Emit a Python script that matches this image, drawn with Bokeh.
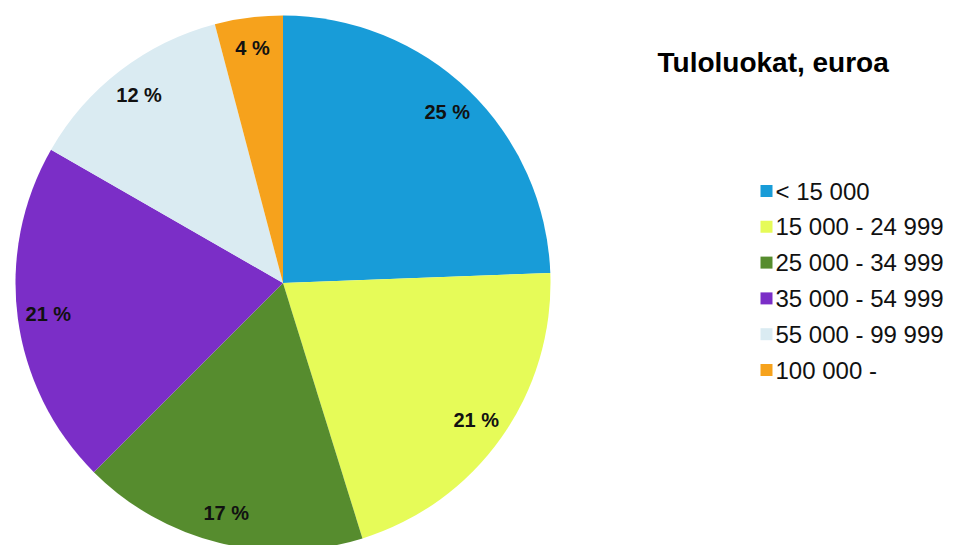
import math
from bokeh.plotting import figure
from bokeh.models import Range1d, ColumnDataSource
from bokeh.core.properties import value
from bokeh.embed import file_html
from bokeh.resources import INLINE

# ---- data ----
categories = ["< 15 000", "15 000 - 24 999", "25 000 - 34 999",
              "35 000 - 54 999", "55 000 - 99 999", "100 000 -"]
shares = [24.4, 20.8, 17.3, 20.8, 12.6, 4.1]
share_labels = ["25 %", "21 %", "17 %", "21 %", "12 %", "4 %"]
colors = ["#189CD8", "#E6FB58", "#568C2E", "#7B2EC7", "#DAEBF2", "#F6A21C"]
title_text = "Tuloluokat, euroa"

# ---- layout ----
W, H = 962, 545
CX, CY, R = 282.5, H - 282.5, 267.5
LAB_R = 0.885 * R

total = sum(shares)
starts, ends, lx, ly = [], [], [], []
cum = 0.0
for s in shares:
    a0 = math.pi / 2 - 2 * math.pi * cum / total
    cum += s
    a1 = math.pi / 2 - 2 * math.pi * cum / total
    starts.append(a0)
    ends.append(a1)
    mid = (a0 + a1) / 2
    lx.append(CX + LAB_R * math.cos(mid))
    ly.append(CY + LAB_R * math.sin(mid))

src = ColumnDataSource(dict(start=starts, end=ends, color=colors,
                            lx=lx, ly=ly, lab=share_labels, cat=categories))

p = figure(width=W, height=H, output_backend="svg", toolbar_location=None,
           x_range=Range1d(0, W), y_range=Range1d(0, H), min_border=0)
p.axis.visible = False
p.grid.visible = False
p.outline_line_color = None
p.background_fill_color = "white"
p.border_fill_color = "white"

p.wedge(x=CX, y=CY, radius=R, radius_units="data", start_angle="start",
        end_angle="end", direction="clock", fill_color="color",
        line_color=None, source=src)

p.text(x="lx", y="ly", text="lab", source=src, text_align="center",
       text_baseline="middle", text_font=value("Liberation Sans"),
       text_font_style="bold", text_font_size="20px", text_color="#111111")

# title
p.text(x=[657], y=[H - 61.5], text=[title_text], text_align="left",
       text_baseline="alphabetic", text_font=value("Liberation Sans"),
       text_font_style="bold", text_font_size="28px", text_color="#000000")

# legend
LEG_Y0, LEG_DY = 190.5, 35.8
leg_y = [H - (LEG_Y0 + i * LEG_DY) for i in range(len(categories))]
leg_src = ColumnDataSource(dict(y=leg_y, color=colors, cat=categories))
p.scatter(x=766, y="y", marker="square", size=12, fill_color="color",
          line_color=None, source=leg_src)
p.text(x=775, y="y", text="cat", source=leg_src, text_align="left",
       text_baseline="middle", text_font=value("Liberation Sans"),
       text_font_size="24px", text_color="#111111")

open("out.html", "w").write(file_html(p, INLINE))
